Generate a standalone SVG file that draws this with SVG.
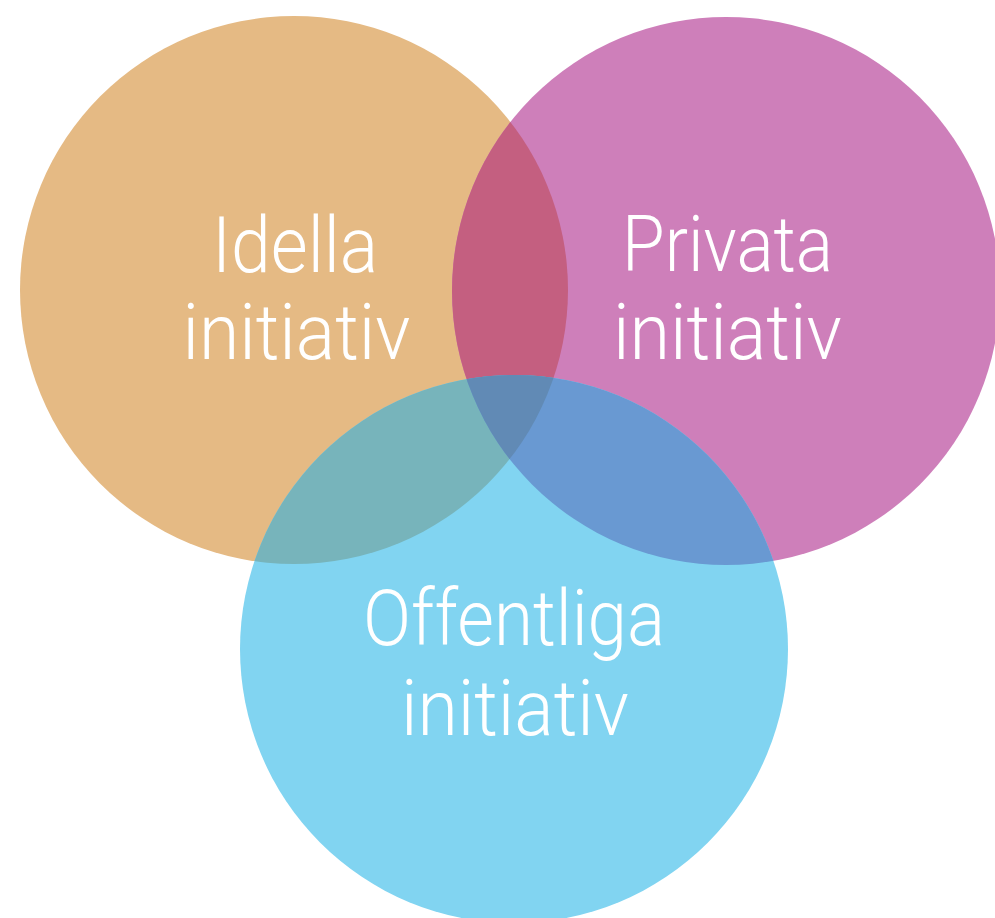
<svg xmlns="http://www.w3.org/2000/svg" width="995" height="918" viewBox="0 0 995 918">
  <style>
    .lbl { font-family: Roboto, "Liberation Sans", Arial, sans-serif; font-weight: 300; font-size: 77px; fill: #ffffff; text-anchor: middle; }
  </style>
  <defs>
    <clipPath id="clipO"><circle cx="294" cy="290" r="274"/></clipPath>
    <clipPath id="clipM"><circle cx="726" cy="291" r="274"/></clipPath>
    <clipPath id="clipB"><circle cx="514" cy="649" r="274"/></clipPath>
  </defs>
  <rect width="995" height="918" fill="#ffffff"/>
  <g id="shapes">
    <circle cx="294" cy="290" r="274" fill="#E5BA84"/>
    <circle cx="726" cy="291" r="274" fill="#CE7FBA"/>
    <circle cx="514" cy="649" r="274" fill="#81D4F1"/>
    <g clip-path="url(#clipO)">
      <circle cx="726" cy="291" r="274" fill="#C45F80"/>
      <circle cx="514" cy="649" r="274" fill="#77B4BB"/>
    </g>
    <g clip-path="url(#clipM)">
      <circle cx="514" cy="649" r="274" fill="#6999D2"/>
    </g>
    <g clip-path="url(#clipO)">
      <g clip-path="url(#clipM)">
        <circle cx="514" cy="649" r="274" fill="#618AB5"/>
      </g>
    </g>
  </g>
  <g id="node-idella">
    <text class="lbl" x="295" y="272" textLength="166" lengthAdjust="spacingAndGlyphs">Idella</text>
    <text class="lbl" x="296.5" y="359" textLength="228" lengthAdjust="spacingAndGlyphs">initiativ</text>
  </g>
  <g id="node-privata">
    <text class="lbl" x="727.5" y="271" textLength="211" lengthAdjust="spacingAndGlyphs">Privata</text>
    <text class="lbl" x="727.5" y="359" textLength="229" lengthAdjust="spacingAndGlyphs">initiativ</text>
  </g>
  <g id="node-offentliga">
    <text class="lbl" x="514" y="645" textLength="302" lengthAdjust="spacingAndGlyphs">Offentliga</text>
    <text class="lbl" x="515" y="735" textLength="228" lengthAdjust="spacingAndGlyphs">initiativ</text>
  </g>
</svg>
